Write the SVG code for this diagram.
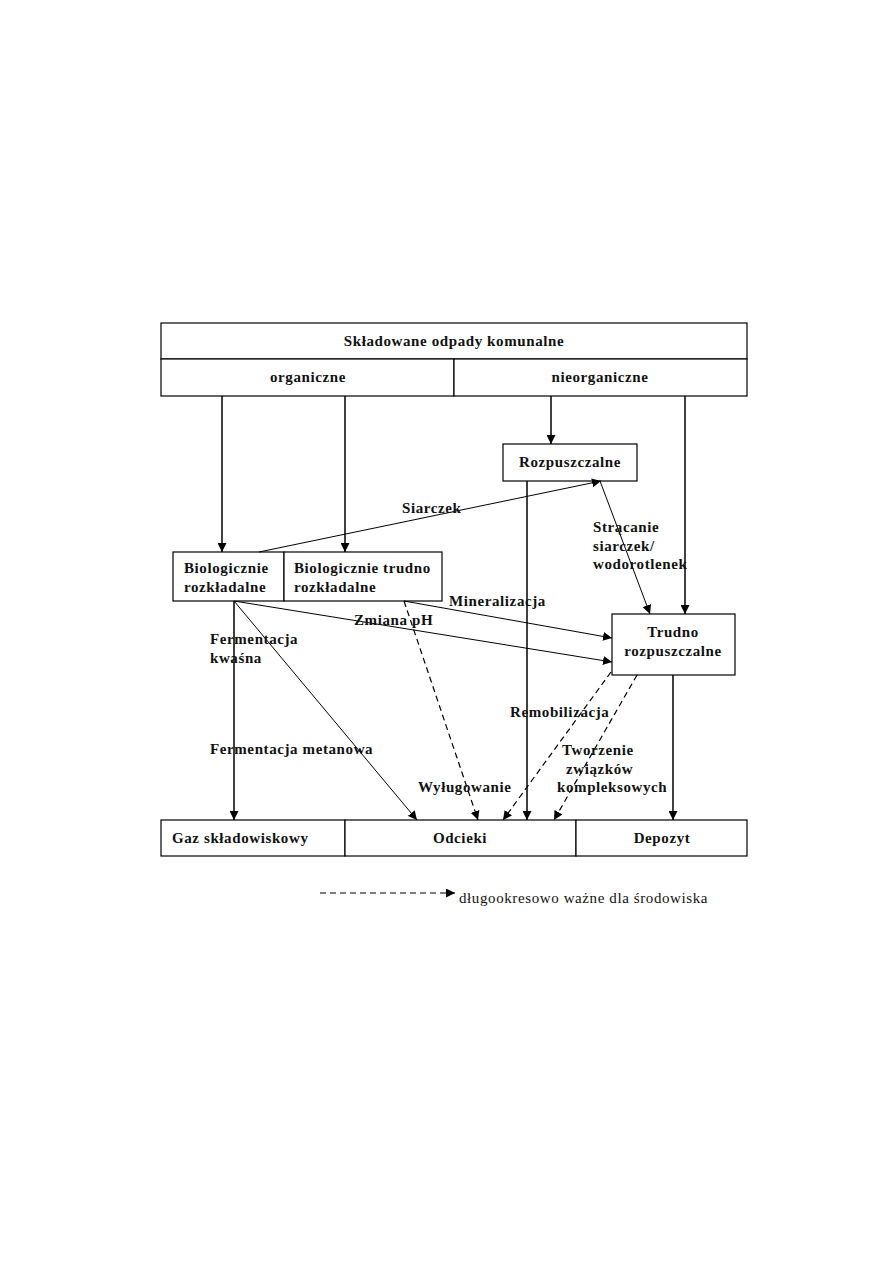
<svg xmlns="http://www.w3.org/2000/svg" width="893" height="1263" viewBox="0 0 893 1263">
<style>
.box{fill:#fff;stroke:#000;stroke-width:1.2}
.t{font-family:"Liberation Serif","Times New Roman",serif;font-weight:bold;font-size:15px;letter-spacing:0.6px;fill:#111}
.c{text-anchor:middle}
.ln{stroke:#000;stroke-width:1.5;fill:none}
.th{stroke:#000;stroke-width:1;fill:none}
.d{stroke:#000;stroke-width:1.2;fill:none;stroke-dasharray:6,4}
.leg{font-family:"Liberation Serif","Times New Roman",serif;font-size:15px;letter-spacing:0.6px;fill:#111}
</style>
<defs>
<marker id="a" viewBox="0 0 10 10" refX="10" refY="5" markerWidth="9" markerHeight="9" markerUnits="userSpaceOnUse" orient="auto"><path d="M0,0 L10,5 L0,10 z" fill="#000"/></marker>
</defs>
<rect width="893" height="1263" fill="#fff"/>
<g id="top">
<rect class="box" x="161" y="323" width="586" height="36"/>
<text class="t c" x="454" y="346">Składowane odpady komunalne</text>
</g>
<g id="organiczne">
<rect class="box" x="161" y="359" width="293" height="37"/>
<text class="t c" x="308" y="382">organiczne</text>
</g>
<g id="nieorganiczne">
<rect class="box" x="454" y="359" width="293" height="37"/>
<text class="t c" x="600" y="382">nieorganiczne</text>
</g>
<g id="rozpuszczalne">
<rect class="box" x="503" y="444" width="134" height="37"/>
<text class="t c" x="570" y="467">Rozpuszczalne</text>
</g>
<g id="bio1">
<rect class="box" x="173" y="552" width="111" height="49"/>
<text class="t" x="184" y="573">Biologicznie</text>
<text class="t" x="184" y="592">rozkładalne</text>
</g>
<g id="bio2">
<rect class="box" x="284" y="552" width="158" height="49"/>
<text class="t" x="294" y="573">Biologicznie trudno</text>
<text class="t" x="294" y="592">rozkładalne</text>
</g>
<g id="trudno">
<rect class="box" x="612" y="614" width="123" height="61"/>
<text class="t c" x="673" y="637">Trudno</text>
<text class="t c" x="673" y="656">rozpuszczalne</text>
</g>
<g id="gaz">
<rect class="box" x="161" y="820" width="184" height="36"/>
<text class="t" x="172" y="843">Gaz składowiskowy</text>
</g>
<g id="odcieki">
<rect class="box" x="345" y="820" width="231" height="36"/>
<text class="t c" x="460" y="843">Odcieki</text>
</g>
<g id="depozyt">
<rect class="box" x="576" y="820" width="171" height="36"/>
<text class="t c" x="662" y="843">Depozyt</text>
</g>
<g id="connectors">
<line class="ln" x1="222" y1="396" x2="222" y2="552" marker-end="url(#a)"/>
<line class="ln" x1="345" y1="396" x2="345" y2="552" marker-end="url(#a)"/>
<line class="ln" x1="551" y1="396" x2="551" y2="444" marker-end="url(#a)"/>
<line class="ln" x1="685" y1="396" x2="685" y2="614" marker-end="url(#a)"/>
<line class="th" x1="259" y1="552" x2="601" y2="481" marker-end="url(#a)"/>
<line class="th" x1="600" y1="481" x2="650" y2="614" marker-end="url(#a)"/>
<line class="ln" x1="527" y1="481" x2="527" y2="820" marker-end="url(#a)"/>
<line class="ln" x1="234" y1="601" x2="234" y2="820" marker-end="url(#a)"/>
<line class="th" x1="234" y1="601" x2="417" y2="820" marker-end="url(#a)"/>
<line class="th" x1="234" y1="601" x2="612" y2="662" marker-end="url(#a)"/>
<line class="th" x1="404" y1="601" x2="612" y2="638" marker-end="url(#a)"/>
<line class="d" x1="404" y1="601" x2="478" y2="820" marker-end="url(#a)"/>
<line class="d" x1="611" y1="672" x2="503" y2="820" marker-end="url(#a)"/>
<line class="d" x1="637" y1="675" x2="554" y2="820" marker-end="url(#a)"/>
<line class="ln" x1="673" y1="675" x2="673" y2="820" marker-end="url(#a)"/>
</g>
<g id="labels">
<text class="t" x="402" y="513">Siarczek</text>
<text class="t" x="593" y="532">Strącanie</text>
<text class="t" x="593" y="551">siarczek/</text>
<text class="t" x="593" y="569">wodorotlenek</text>
<text class="t" x="449" y="606">Mineralizacja</text>
<text class="t" x="354" y="625">Zmiana pH</text>
<text class="t" x="210" y="644">Fermentacja</text>
<text class="t" x="210" y="663">kwaśna</text>
<text class="t" x="210" y="754">Fermentacja metanowa</text>
<text class="t" x="510" y="717">Remobilizacja</text>
<text class="t" x="562" y="755">Tworzenie</text>
<text class="t" x="566" y="774">związków</text>
<text class="t" x="557" y="792">kompleksowych</text>
<text class="t" x="418" y="792">Wyługowanie</text>
</g>
<g id="legend">
<line class="d" x1="320" y1="893" x2="455" y2="893" stroke-dasharray="5,4" marker-end="url(#a)"/>
<text class="leg" x="459" y="903">długookresowo ważne dla środowiska</text>
</g>
</svg>
